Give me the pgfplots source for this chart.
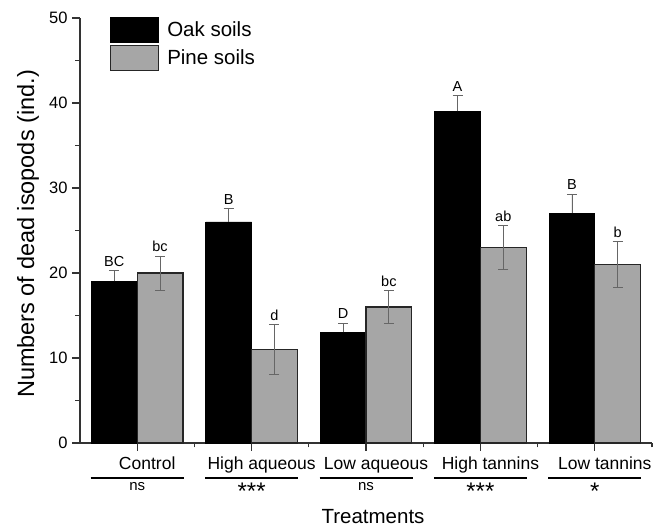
\documentclass[border=0pt]{standalone}
\usepackage{pgfplots}
\pgfplotsset{compat=1.18}
\usepackage{fontspec}
\setmainfont{Liberation Sans}
\pgfplotsset{boxlegend/.style={legend image code/.code={\draw[##1] (0pt,-12.5pt) rectangle (48pt,12.5pt);}}}
\newcommand{\fs}[1]{\fontsize{#1}{#1}\selectfont}
\begin{document}
\begin{tikzpicture}
\begin{axis}[
 at={(0pt,0pt)},anchor=south west,
 width=572pt,height=425pt,scale only axis,
 xmin=0.5,xmax=5.5,ymin=0,ymax=50,
 axis x line*=bottom,axis y line*=left,
 axis line style={black!80,line width=1.2pt},
 every tick/.style={black!80,line width=1.1pt},
 tick align=outside,
 major tick length=8pt,minor tick length=4.5pt,
 xtick={1,2,3,4,5},xticklabels={},
 minor xtick={1.5,2.5,3.5,4.5,5.5},
 ytick={0,10,20,30,40,50},
 minor ytick={5,15,25,35,45},
 /pgf/number format/assume math mode=true,
 yticklabel style={font=\fs{16.5},xshift=-1pt},
 clip=false,
 legend style={draw=none,fill=none,at={(rel axis cs:0.0524,1.003)},anchor=north west,
   inner sep=0pt,row sep=2pt,font=\fs{20.5},
   nodes={inner xsep=8pt}},
 legend cell align=left,
 error bars/error bar style={black!60,line width=0.8pt},
 error bars/error mark options={rotate=90,mark size=5pt,black!60,line width=0.8pt},
]
% oak soils (bars left of each treatment centre)
\addplot[ybar,bar width=45.8pt,bar shift=0pt,fill=black,draw=black,line width=0.8pt,boxlegend,
  error bars/.cd,y dir=plus,y explicit]
 table[x=x,y=y,y error=e] {
 x y e
 0.8 19 1.3
 1.8 26 1.6
 2.8 13 1.1
 3.8 39 1.9
 4.8 27 2.3
};
\addlegendentry{Oak soils}
% pine soils
\addplot[ybar,bar width=45.8pt,bar shift=0pt,fill=black!35,draw=black!85,line width=1.1pt,boxlegend,
  error bars/.cd,y dir=both,y explicit]
 table[x=x,y=y,y error=e] {
 x y e
 1.2 20 2.0
 2.2 11 2.9
 3.2 16 1.9
 4.2 23 2.6
 5.2 21 2.7
};
\addlegendentry{Pine soils}
% letters over the bars
\foreach \xx/\yy/\tt in {0.8/20.3/BC,1.8/27.6/B,2.8/14.1/D,3.8/40.9/A,4.8/29.3/B,
  1.2/22.0/bc,2.2/13.9/d,3.2/17.9/bc,4.2/25.6/ab,5.2/23.7/b}
 {\edef\tmp{\noexpand\node[anchor=south,inner sep=0pt,font=\noexpand\fs{14.5}] at ([yshift=4pt]axis cs:\xx,\yy) {\tt};}\tmp}
% treatment names, lines and significance
\foreach \xx/\nm in {1/Control,2/High aqueous,3/Low aqueous,4/High tannins,5/Low tannins}
 {\edef\tmp{\noexpand\node[anchor=base,inner sep=0pt,font=\noexpand\fs{17.5}] at ([xshift=10pt,yshift=-27pt]axis cs:\xx,0) {\nm};
  \noexpand\draw[line width=1.3pt] ([xshift=-46.5pt,yshift=-35pt]axis cs:\xx,0) -- ([xshift=46.5pt,yshift=-35pt]axis cs:\xx,0);}\tmp}
\foreach \xx/\sg/\sz in {1/ns/15,2/***/24,3/ns/15,4/***/24,5/*/24}
 {\edef\tmp{\noexpand\node[anchor=north,inner sep=0pt,font=\noexpand\fs{\sz}] at ([yshift=-39.5pt]axis cs:\xx,0) {\sg};}\tmp}
\end{axis}
\node[anchor=base,inner sep=0pt,font=\fs{20.5}] at (293pt,-81pt) {Treatments};
\node[rotate=90,inner sep=0pt,font=\fs{23.5}] at (-52pt,209pt) {Numbers of dead isopods (ind.)};
\pgfresetboundingbox
\useasboundingbox (-80pt,-86pt) rectangle (585pt,443pt);
\end{tikzpicture}
\end{document}
